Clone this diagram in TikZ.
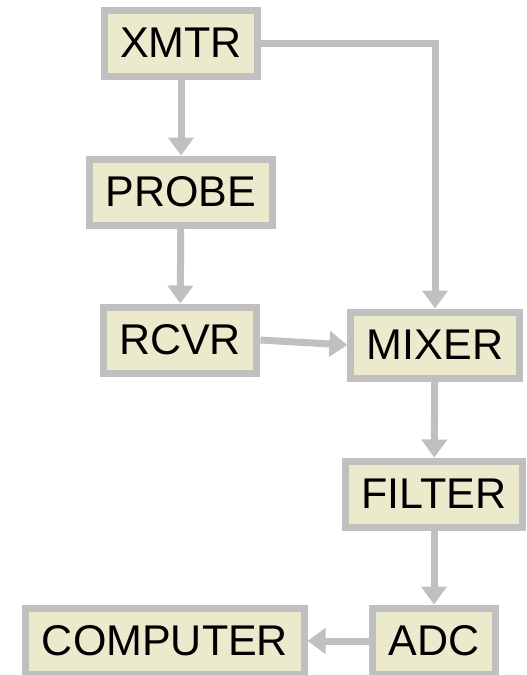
\documentclass[tikz,border=0pt]{standalone}
\usepackage{fontspec}
\setmainfont{Liberation Sans}
\usepackage{tikz}
\usetikzlibrary{arrows.meta}
\definecolor{linegray}{RGB}{192,192,192}
\definecolor{boxfill}{RGB}{236,234,204}
\tikzset{
  block/.style={rectangle, draw=linegray, line width=7pt, fill=boxfill,
    font=\fontsize{43}{47}\selectfont, inner xsep=16pt, inner ysep=0pt,
    minimum height=66pt},
  link/.style={draw=linegray, line width=7pt,
    -{Triangle[width=25pt, length=18pt]}}
}

\begin{document}
\begin{tikzpicture}[x=1pt, y=-1pt]
            \useasboundingbox (0,0) rectangle (527,675);

            % Blocks
            \node[block] (xmtr) at (181, 43) {XMTR};
            \node[block] (probe) at (181, 192) {PROBE};
            \node[block] (rcvr) at (180, 340) {RCVR};
            \node[block] (mixer) at (435, 345) {MIXER};
            \node[block] (filter) at (434, 494) {FILTER};
            \node[block] (adc) at (434, 641) {ADC};
            \node[block] (computer) at (165, 641) {COMPUTER};

            % Signal path
            \draw[link] (xmtr) -- (probe);
            \draw[link] (probe) -- (rcvr);
            \draw[link] (xmtr.east) -| (mixer.north);
            \draw[link] (rcvr.east) -- (mixer.west);
            \draw[link] (mixer) -- (filter);
            \draw[link] (filter) -- (adc);
            \draw[link] (adc.west) -- (computer.east);
        \end{tikzpicture}
\end{document}
